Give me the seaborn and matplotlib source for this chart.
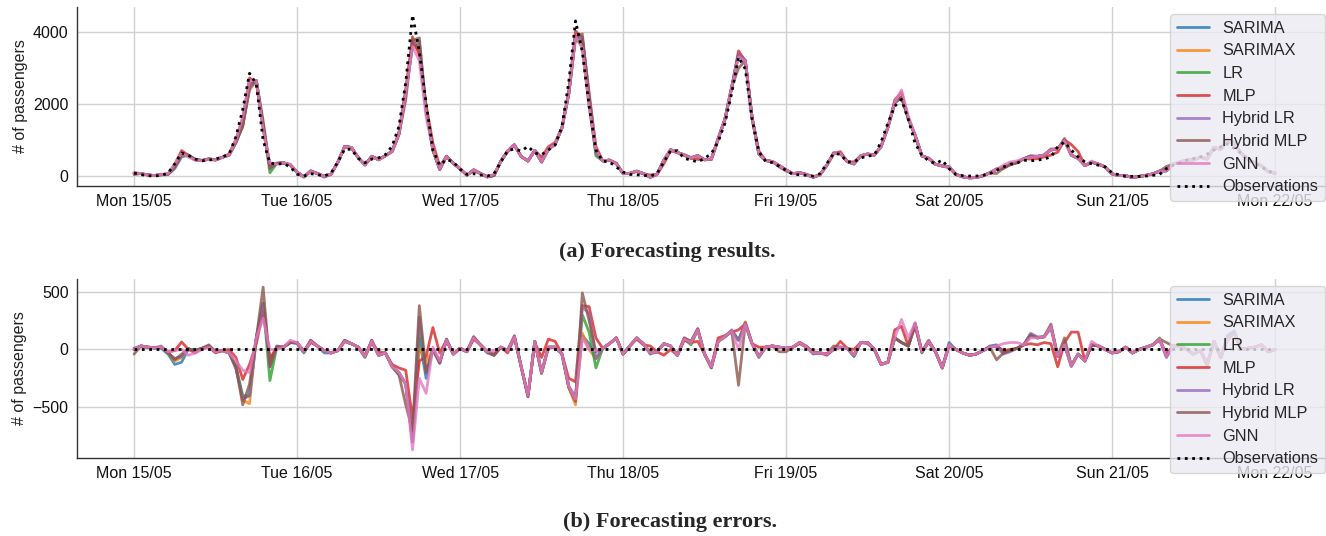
import numpy as np
import pandas as pd
import matplotlib
matplotlib.use("Agg")
import matplotlib.pyplot as plt
import matplotlib.dates as mdates
import seaborn as sns

# hourly timestamps, Mon 15/05 00:00 .. Mon 22/05 00:00
times = pd.date_range("2023-05-15 00:00", periods=169, freq="h")

# observed passengers, one row per day
observations = [
    90, 50, 20, 10, 30, 90, 350, 650, 580, 480, 430, 450, 480, 540, 620, 1100, 1850, 2850, 2550, 1000, 370, 340, 355, 260,
    60, 10, 75, 50, 10, 90, 400, 750, 750, 500, 380, 480, 510, 600, 840, 1380, 2600, 4460, 3450, 2030, 730, 310, 470, 400,
    200, 55, 75, 40, 10, 75, 400, 710, 760, 700, 830, 650, 600, 730, 870, 1380, 2600, 4300, 3450, 1940, 730, 420, 400, 260,
    120, 55, 45, 30, 10, 75, 400, 710, 710, 500, 450, 400, 500, 630, 960, 1470, 2310, 3300, 2970, 1570, 680, 420, 380, 280,
    170, 55, 45, 30, 10, 75, 350, 630, 615, 400, 400, 510, 560, 590, 960, 1470, 1940, 2130, 1570, 915, 590, 430, 355, 450,
    215, 55, 20, 10, 10, 30, 75, 170, 260, 340, 370, 450, 430, 450, 480, 540, 820, 950, 730, 540, 400, 355, 310, 260,
    100, 45, 0, 0, 0, 10, 30, 55, 215, 310, 370, 450, 495, 540, 615, 730, 820, 900, 775, 635, 465, 355, 260, 150,
    90,
]

# forecasting errors (prediction - observation) per model
err_sarima = [
    10, 30, 20, 10, 10, -40, -130, -110, 5, -10, 10, 30, -20, -10, -30, -170, -420, -400, 100, 400, -100, 10, 20, 60,
    50, -30, 70, 30, -30, -30, -10, 70, 50, 20, -60, 70, -50, -30, -150, -200, -300, -800, 100, -250, 0, -110, 80, -40,
    10, -20, 100, 40, -30, -50, 20, -10, 110, -150, -400, 70, -200, 20, 20, -40, -320, -420, 120, 50, -80, 10, 50, 100,
    -40, 30, 100, 50, -40, -20, 50, 30, -50, 90, 60, 170, -40, -150, 70, 110, 160, 80, 220, 50, -70, 20, 30, 20,
    10, 20, 60, 20, -40, -30, -40, 0, 20, 10, -60, 60, 60, 0, -130, -110, 100, 60, 30, 220, -30, 70, -20, -160,
    60, 0, -30, -50, -40, -10, 30, 40, -30, -10, 10, 40, 130, 100, 110, 200, -60, 40, -140, -40, -100, 40, 30, 0,
    -30, -20, 20, -30, 0, 20, 40, 90, -60, 30, 30, 0, -40, -10, -130, 70, -70, 120, 160, 0, 10, 20, 40, -20,
    0,
]
err_sarimax = [
    0, 30, 20, 15, 20, -30, -100, -70, 5, -10, 10, 30, -20, -10, -30, -150, -440, -470, 100, 380, -120, 20, 20, 60,
    60, -20, 70, 30, -10, -30, -10, 70, 50, 20, -60, 70, -50, -30, -150, -200, -300, -800, 10, -100, 0, -110, 80, -40,
    10, -20, 100, 40, -20, -50, 20, -10, 110, -150, -400, 70, -200, 20, 20, -40, -330, -480, 140, 0, -80, 10, 50, 100,
    -40, 30, 100, 50, -30, -20, 50, 30, -50, 90, 60, 170, -40, -150, 70, 110, 160, 80, 240, 50, -60, 20, 30, 20,
    10, 20, 60, 20, -30, -30, -40, 0, 20, 10, -50, 60, 60, 0, -130, -110, 100, 60, 30, 220, -20, 70, -20, -160,
    40, 0, -30, -50, -40, -10, 20, 30, -30, -10, 10, 40, 130, 100, 110, 200, -60, 40, -140, -40, -100, 40, 30, 0,
    -30, -20, 20, -30, 0, 20, 40, 90, -60, 30, 30, 0, -40, -10, -130, 70, -70, 90, 140, 0, 10, 20, 40, -20,
    0,
]
err_lr = [
    0, 30, 20, 15, 20, -30, -80, -60, 5, -10, 10, 30, -20, -10, -30, -150, -400, -400, 100, 400, -270, 20, 20, 60,
    60, -20, 70, 30, -10, -30, -10, 70, 50, 20, -70, 70, -50, -30, -150, -220, -300, -800, 200, -200, 0, -110, 80, -40,
    10, -20, 100, 40, -20, -50, 20, -10, 110, -150, -400, 70, -200, 20, 20, -40, -320, -420, 300, 150, -160, 10, 50, 100,
    -40, 30, 100, 50, -30, -20, 50, 30, -50, 90, 40, 170, -40, -150, 70, 110, 160, 80, 220, 50, -60, 20, 30, 20,
    10, 20, 60, 20, -30, -30, -40, 0, 20, 10, -60, 60, 60, 0, -130, -110, 100, 60, 30, 220, -20, 70, -20, -160,
    40, 0, -30, -50, -40, -10, 20, 30, -30, -10, 10, 40, 130, 100, 110, 200, -60, 40, -140, -40, -100, 40, 30, 0,
    -30, -20, 20, -30, 0, 20, 40, 100, -60, 30, 30, 0, -40, -10, -130, 70, -70, 90, 140, 0, 10, 20, 40, -20,
    0,
]
err_mlp = [
    0, 30, 20, 15, 20, -20, -10, 65, 0, -30, 10, 20, -30, -10, 0, -70, -260, -130, 50, 330, -80, 20, 20, 60,
    60, -20, 60, 30, -10, -30, -10, 70, 50, 20, -50, 60, -20, -30, -130, -160, -180, -600, -100, -60, 190, -30, 80, -40,
    10, -20, 90, 40, -20, -40, 20, -30, 100, -150, -400, 60, -70, 90, 70, -40, -250, -280, 380, 370, 100, 10, 50, 100,
    -40, 30, 90, 40, 30, -20, -50, 0, -50, 80, 60, 70, -40, -150, 100, 120, 150, 170, 220, 50, 20, 20, 30, 20,
    10, 20, 50, 20, -20, -30, -50, 0, 70, 10, 0, 60, 50, 0, -130, -110, 170, 200, 30, 200, -20, 60, -20, -160,
    30, 0, -30, -50, -40, -10, 20, 30, -10, 0, 10, 40, 50, 40, 60, 50, -150, 60, 150, 150, -100, 40, 30, 0,
    -30, -20, 20, -30, 0, 20, 40, 80, -40, 30, 30, 0, -40, -10, -120, 70, -70, 90, 140, 0, 10, 20, 40, -20,
    0,
]
err_hybrid_lr = [
    0, 30, 20, 15, 30, -30, -80, -60, 5, -10, 10, 30, -20, -10, -30, -150, -430, -400, 100, 400, -150, 20, 20, 60,
    60, -20, 80, 30, -10, -30, -10, 80, 50, 20, -60, 80, -50, -30, -150, -200, -300, -800, 280, -200, 0, -120, 90, -40,
    10, -20, 110, 40, -20, -50, 20, -10, 110, -150, -410, 70, -200, 20, 20, -40, -320, -420, 370, 310, -80, 10, 50, 100,
    -40, 30, 100, 50, -30, -20, 50, 30, -50, 100, 70, 180, -40, -160, 70, 110, 170, 80, 230, 50, -60, 20, 30, 20,
    10, 20, 60, 20, -30, -30, -40, 0, 20, 10, -50, 60, 60, 0, -130, -110, 100, 60, 30, 220, -20, 70, -20, -160,
    40, 0, -30, -50, -40, -10, 20, 30, -40, -20, 10, 40, 140, 110, 110, 180, -60, 40, -150, -40, -100, 40, 30, 0,
    -30, -20, 20, -30, 0, 20, 40, 90, -70, 30, 30, 0, -40, -10, -130, 70, -70, 90, 140, 0, 10, 20, 40, -20,
    0,
]
err_hybrid_mlp = [
    -40, 30, 20, 15, 20, -30, -90, -40, 5, -10, 10, 40, -20, -10, -30, -150, -480, -300, 100, 540, -150, 30, 20, 60,
    60, -20, 80, 30, -10, -30, -10, 80, 50, 20, -60, 80, -50, -30, -150, -220, -480, -700, 380, -200, 0, -120, 90, -40,
    10, -20, 110, 40, -20, -50, 20, -10, 120, -150, -410, 70, -210, 20, 20, -40, -330, -450, 490, 250, -20, 10, 50, 100,
    -40, 30, 100, 50, -30, -20, 50, 30, -50, 100, 70, 180, -40, -160, 70, 110, 160, -310, 230, 50, -60, 20, 30, -20,
    -20, 20, 60, 30, -30, -30, -40, 30, 20, 10, -50, 60, 60, 0, -130, -110, 100, 60, 30, 230, -20, 80, -20, -160,
    40, 0, -30, -50, -40, -10, 20, -90, -30, -10, 10, 40, 120, 100, 110, 220, -60, 100, -140, -40, -100, 40, 30, 0,
    -30, -20, 20, -30, 0, 20, 40, 90, 60, 30, 30, 0, -40, -10, -140, 70, -70, 90, 140, 0, 10, 20, 40, -20,
    0,
]
err_gnn = [
    0, 30, 20, 15, 20, -20, -10, 0, -50, -30, 0, 20, -20, -10, -30, -100, -180, -200, 100, 270, 0, 0, 20, 80,
    60, -20, 70, 30, -10, -30, -10, 70, 50, 20, -60, 70, -50, -30, -150, -200, -300, -870, -250, -380, 20, -100, 80, -40,
    10, -20, 100, 40, -20, -10, 20, -10, 110, -150, -400, 70, -200, 20, 20, -40, -320, -430, 100, 0, -10, 10, 50, 100,
    -40, 30, 100, 50, -30, -20, 50, 30, -50, 90, 60, 170, -40, -150, 70, 110, 160, 0, 220, 50, -60, 20, 30, 20,
    10, 20, 60, 20, -30, -30, -40, 0, 20, 10, -50, 60, 60, 0, -130, -110, 100, 260, 100, 230, -20, 70, -20, -160,
    40, 0, -30, -50, -40, -10, 20, 30, 50, 60, 60, 40, 100, 100, 110, 200, -60, 40, -140, -40, -100, 70, 30, 0,
    -30, -20, 20, -30, 0, 20, 40, 90, -60, 30, 30, 0, -40, -10, -130, 70, -70, 90, 140, 0, 10, 20, 40, -20,
    0,
]

model_names = ["SARIMA", "SARIMAX", "LR", "MLP", "Hybrid LR", "Hybrid MLP", "GNN"]
model_errors = [err_sarima, err_sarimax, err_lr, err_mlp, err_hybrid_lr, err_hybrid_mlp, err_gnn]

sns.set_style("whitegrid", {"axes.edgecolor": ".2", "grid.color": ".82"})
plt.rcParams["font.family"] = ["Liberation Sans", "DejaVu Sans"]
colors = sns.color_palette("tab10")

obs = np.array(observations, dtype=float)

fig = plt.figure(figsize=(13.26, 5.36), dpi=100)
ax1 = fig.add_axes([0.0581, 0.653, 0.9465, 0.334])
ax2 = fig.add_axes([0.0581, 0.1455, 0.9465, 0.334])

for i, (name, err) in enumerate(zip(model_names, model_errors)):
    err = np.array(err, dtype=float)
    sns.lineplot(x=times, y=obs + err, ax=ax1, color=colors[i], alpha=0.8, lw=2, label=name)
    sns.lineplot(x=times, y=err, ax=ax2, color=colors[i], alpha=0.8, lw=2, label=name)

sns.lineplot(x=times, y=obs, ax=ax1, color="black", lw=2, linestyle=":", label="Observations")
sns.lineplot(x=times, y=np.zeros(len(obs)), ax=ax2, color="black", lw=2, linestyle=":", label="Observations")

for ax in (ax1, ax2):
    ax.xaxis.set_major_locator(mdates.DayLocator())
    ax.xaxis.set_major_formatter(mdates.DateFormatter("%a %d/%m"))
    ax.tick_params(axis="both", labelsize=11.5, length=0, pad=6, labelcolor="#111111")
    ax.set_ylabel("# of passengers", fontsize=11.5, color="#222222")
    ax.set_xlabel("")
    ax.grid(True, color=".82", lw=1)
    sns.despine(ax=ax)
    for s in ("left", "bottom"):
        ax.spines[s].set_linewidth(1.0)
    leg = ax.legend(loc="upper right", bbox_to_anchor=(1.0, 1.0), frameon=True,
                    facecolor="#EAEAF2", edgecolor="#d0d0d0", framealpha=0.8,
                    fontsize=11.7, labelspacing=0.47, handlelength=2.0,
                    handletextpad=0.8, borderaxespad=0.45)
    leg.get_frame().set_linewidth(1.0)

ax1.set_yticks([0, 2000, 4000])
ax2.set_yticks([-500, 0, 500])

fig.text(0.503, 1 - 252 / 536, "(a) Forecasting results.", ha="center", va="center",
         fontsize=16, fontweight="bold", family="Liberation Serif")
fig.text(0.505, 1 - 522 / 536, "(b) Forecasting errors.", ha="center", va="center",
         fontsize=16, fontweight="bold", family="Liberation Serif")

fig.savefig("out.png", dpi=100)
